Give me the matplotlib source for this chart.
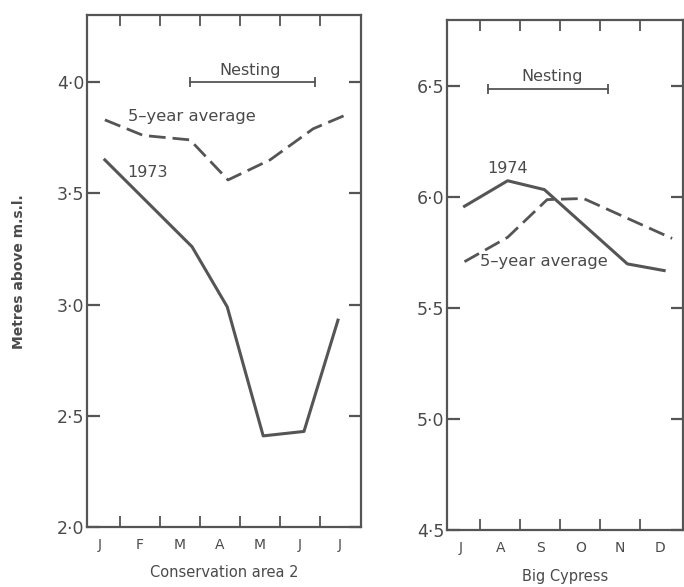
import matplotlib
matplotlib.use('Agg')
import matplotlib.pyplot as plt

# --- data (x in month units, 0 = first month) ---
# Conservation area 2 (Jan-Jul)
ca_months = ['J', 'F', 'M', 'A', 'M', 'J', 'J']
ca_1973_x = [0.12, 2.3, 3.18, 4.08, 5.1, 5.95]
ca_1973_y = [3.65, 3.26, 2.99, 2.41, 2.43, 2.93]
ca_avg_x = [0.12, 1.08, 2.25, 3.2, 4.25, 5.33, 6.25]
ca_avg_y = [3.83, 3.76, 3.74, 3.56, 3.65, 3.79, 3.86]
ca_nesting = (2.25, 5.38, 4.0)
ca_yticks = [2.0, 2.5, 3.0, 3.5, 4.0]

# Big Cypress (Jul-Dec)
bc_months = ['J', 'A', 'S', 'O', 'N', 'D']
bc_1974_x = [0.1, 1.18, 2.1, 4.18, 5.1]
bc_1974_y = [5.96, 6.075, 6.035, 5.70, 5.67]
bc_avg_x = [0.1, 1.18, 2.17, 3.08, 4.25, 5.3]
bc_avg_y = [5.71, 5.82, 5.99, 5.995, 5.90, 5.815]
bc_nesting = (0.7, 3.7, 6.49)
bc_yticks = [4.5, 5.0, 5.5, 6.0, 6.5]

ink = '#555555'
txt = '#4a4a4a'
plt.rcParams['font.family'] = ['DejaVu Sans']

fig = plt.figure(figsize=(6.84, 5.87), dpi=100)
ax1 = fig.add_axes([0.127, 0.102, 0.401, 0.872])
ax2 = fig.add_axes([0.654, 0.097, 0.345, 0.869])


def style_panel(ax, months, yticks, xlim, ylim):
    ax.set_xlim(*xlim)
    ax.set_ylim(*ylim)
    for sp in ax.spines.values():
        sp.set_color(ink)
        sp.set_linewidth(1.6)
    # month boundaries get the tick marks, month centres get the labels
    ax.set_xticks([i + 0.5 for i in range(len(months) - 1)])
    ax.set_xticklabels([])
    ax.set_xticks(range(len(months)), minor=True)
    ax.set_xticklabels(months, minor=True, fontsize=10, color=txt)
    ax.tick_params(axis='x', which='major', direction='in', length=8, width=1.3,
                   color=ink, top=True, bottom=True)
    ax.tick_params(axis='x', which='minor', length=0, pad=8)
    ax.set_yticks(yticks)
    ax.set_yticklabels([f'{v:.1f}'.replace('.', '\u00b7') for v in yticks],
                       fontsize=12.5, color=txt)
    ax.tick_params(axis='y', direction='in', length=9, width=1.6, color=ink,
                   left=True, right=True, pad=2)


def nesting_bar(ax, spec):
    x0, x1, y = spec
    ax.plot([x0, x1], [y, y], color=ink, lw=1.3, marker='|', ms=7, mew=1.3)


style_panel(ax1, ca_months, ca_yticks, (-0.33, 6.53), (2.0, 4.30))
ax1.plot(ca_1973_x, ca_1973_y, color=ink, lw=2.2, solid_joinstyle='round')
ax1.plot(ca_avg_x, ca_avg_y, color=ink, lw=2.0, dashes=(6, 2.5))
nesting_bar(ax1, ca_nesting)
ax1.text(3.75, 4.05, 'Nesting', ha='center', va='center', fontsize=11.5, color=txt)
ax1.text(2.3, 3.845, '5\u2013year average', ha='center', va='center', fontsize=11.8, color=txt)
ax1.text(1.18, 3.595, '1973', ha='center', va='center', fontsize=11.5, color=txt)
ax1.set_xlabel('Conservation area 2', fontsize=10.5, color=txt, labelpad=9)
ax1.set_ylabel('Metres above m.s.l.', fontsize=10, color=txt, fontweight='bold',
               labelpad=22)

style_panel(ax2, bc_months, bc_yticks, (-0.33, 5.58), (4.5, 6.80))
ax2.plot(bc_1974_x, bc_1974_y, color=ink, lw=2.2, solid_joinstyle='round')
ax2.plot(bc_avg_x, bc_avg_y, color=ink, lw=2.0, dashes=(6, 2.5))
nesting_bar(ax2, bc_nesting)
ax2.text(2.3, 6.545, 'Nesting', ha='center', va='center', fontsize=11.5, color=txt)
ax2.text(1.18, 6.13, '1974', ha='center', va='center', fontsize=11.5, color=txt)
ax2.text(2.1, 5.71, '5\u2013year average', ha='center', va='center', fontsize=11.8, color=txt)
ax2.set_xlabel('Big Cypress', fontsize=10.5, color=txt, labelpad=10)

fig.savefig('out.png', dpi=100)
